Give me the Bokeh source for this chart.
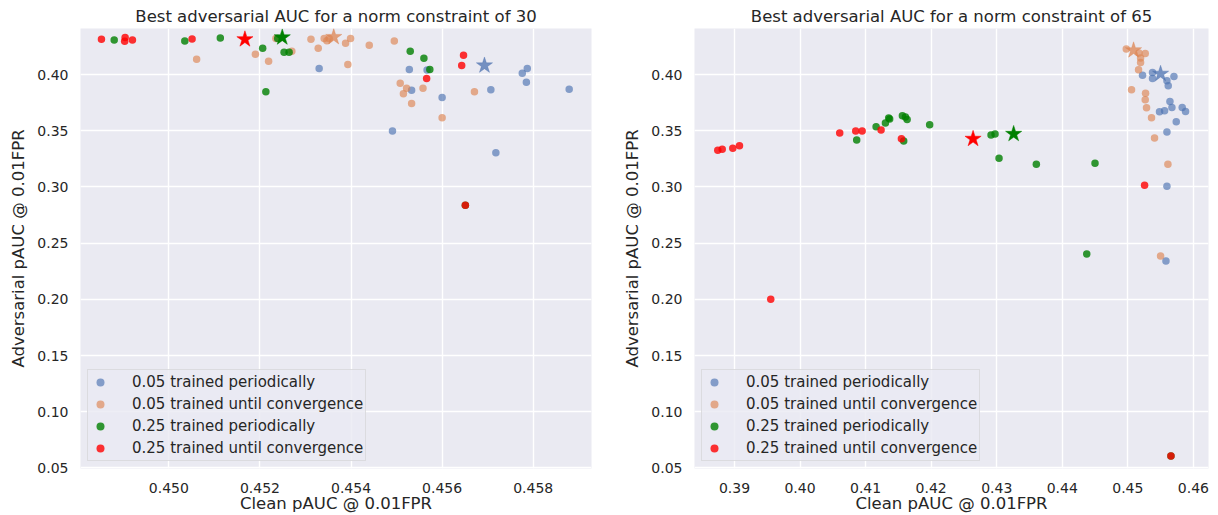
from bokeh.plotting import figure
from bokeh.layouts import row
from bokeh.models import FixedTicker, PrintfTickFormatter, Legend, LegendItem
from bokeh.embed import file_html
from bokeh.resources import INLINE

# ---- norm constraint 30 ----
c30_p05_x = [0.45330, 0.45528, 0.45567, 0.45533, 0.45600, 0.45491, 0.45707,
             0.45776, 0.45787, 0.45785, 0.45879, 0.45718]
c30_p05_y = [0.4055, 0.4046, 0.4040, 0.3860, 0.3795, 0.3498, 0.3866,
             0.4011, 0.4055, 0.3931, 0.3869, 0.3304]
c30_c05_x = [0.45061, 0.45190, 0.45219, 0.45235, 0.45270, 0.45312, 0.45328,
             0.45341, 0.45347, 0.45352, 0.45388, 0.45399, 0.45393, 0.45440,
             0.45495, 0.45508, 0.45522, 0.45515, 0.45558, 0.45533, 0.45671,
             0.45600]
c30_c05_y = [0.4137, 0.4181, 0.4119, 0.4320, 0.4208, 0.4314, 0.4234,
             0.4320, 0.4302, 0.4320, 0.4278, 0.4320, 0.4090, 0.4261,
             0.4299, 0.3922, 0.3878, 0.3830, 0.3878, 0.3742, 0.3848,
             0.3616]
c30_p25_x = [0.44880, 0.45035, 0.45113, 0.45206, 0.45213, 0.45253, 0.45264,
             0.45239, 0.45530, 0.45560, 0.45573, 0.45651]
c30_p25_y = [0.4307, 0.4299, 0.4325, 0.4234, 0.3848, 0.4199, 0.4199,
             0.4320, 0.4208, 0.4146, 0.4046, 0.2838]
c30_c25_x = [0.44852, 0.44904, 0.44903, 0.44920, 0.45051, 0.45647, 0.45643,
             0.45566, 0.45651]
c30_c25_y = [0.4314, 0.4329, 0.4296, 0.4307, 0.4316, 0.4172, 0.4081,
             0.3966, 0.2838]
# best run of each group (stars): p05, c05, p25, c25
c30_best_x = [0.45693, 0.45362, 0.45249, 0.45167]
c30_best_y = [0.4081, 0.4334, 0.4331, 0.4314]

# ---- norm constraint 65 ----
c65_p05_x = [0.45224, 0.45376, 0.45376, 0.45596, 0.45616, 0.45703, 0.45642,
             0.45560, 0.45483, 0.45672, 0.45829, 0.45880, 0.45738, 0.45596,
             0.45596, 0.45581]
c65_p05_y = [0.3993, 0.4019, 0.3966, 0.3945, 0.3901, 0.3984, 0.3760,
             0.3678, 0.3669, 0.3707, 0.3707, 0.3671, 0.3580, 0.3489,
             0.3006, 0.2341]
c65_c05_x = [0.44976, 0.45169, 0.45265, 0.45194, 0.45194, 0.45163, 0.45056,
             0.45270, 0.45265, 0.45285, 0.45361, 0.45407, 0.45611, 0.45499]
c65_c05_y = [0.4228, 0.4193, 0.4187, 0.4148, 0.4108, 0.4042, 0.3866,
             0.3834, 0.3777, 0.3704, 0.3616, 0.3436, 0.3203, 0.2385]
c65_p25_x = [0.40864, 0.41160, 0.41302, 0.41352, 0.41367, 0.41561, 0.41607,
             0.41633, 0.41581, 0.41977, 0.42913, 0.42974, 0.43035, 0.43604,
             0.44499, 0.44373, 0.45657]
c65_p25_y = [0.3419, 0.3536, 0.3569, 0.3613, 0.3604, 0.3633, 0.3622,
             0.3601, 0.3410, 0.3554, 0.3463, 0.3472, 0.3256, 0.3203,
             0.3212, 0.2404, 0.0606]
c65_c25_x = [0.38745, 0.38813, 0.38974, 0.39076, 0.40605, 0.40849, 0.40947,
             0.41236, 0.41546, 0.45255, 0.39553, 0.45657]
c65_c25_y = [0.3327, 0.3336, 0.3345, 0.3366, 0.3481, 0.3498, 0.3498,
             0.3507, 0.3428, 0.3015, 0.2002, 0.0606]
c65_best_x = [0.45499, 0.45087, 0.43258, 0.42639]
c65_best_y = [0.4007, 0.4216, 0.3472, 0.3428]

group_labels = ["0.05 trained periodically", "0.05 trained until convergence",
                "0.25 trained periodically", "0.25 trained until convergence"]
group_colors = ["#4C72B0", "#DD8452", "#008000", "#FF0000"]
group_alpha = [0.65, 0.65, 0.8, 0.8]
star_alpha = [0.75, 0.75, 1.0, 1.0]

y_ticks = [0.05, 0.10, 0.15, 0.20, 0.25, 0.30, 0.35, 0.40]
x_ticks_30 = [0.450, 0.452, 0.454, 0.456, 0.458]
x_ticks_65 = [0.39, 0.40, 0.41, 0.42, 0.43, 0.44, 0.45, 0.46]

TXT = "#262626"
FONT = "DejaVu Sans"


def panel(title, groups, best_x, best_y, x_range, x_ticks, x_fmt,
          width, border_left, border_right):
    p = figure(width=width, height=515, x_range=x_range, y_range=(0.0495, 0.441),
               output_backend="svg", toolbar_location=None,
               min_border_left=border_left, min_border_right=border_right,
               min_border_top=28, min_border_bottom=45)
    p.background_fill_color = "#EAEAF2"
    p.border_fill_color = "white"
    p.outline_line_color = None

    p.title.text = title
    p.title.align = "center"
    p.title.text_font = FONT
    p.title.text_font_size = "16.5px"
    p.title.text_font_style = "normal"
    p.title.text_color = TXT
    p.title.standoff = 6

    for g in (p.xgrid, p.ygrid):
        g.grid_line_color = "white"
        g.grid_line_width = 1.4

    p.yaxis.ticker = FixedTicker(ticks=y_ticks)
    p.yaxis.formatter = PrintfTickFormatter(format="%.2f")
    p.xaxis.ticker = FixedTicker(ticks=x_ticks)
    p.xaxis.formatter = PrintfTickFormatter(format=x_fmt)
    p.xaxis.axis_label = "Clean pAUC @ 0.01FPR"
    p.yaxis.axis_label = "Adversarial pAUC @ 0.01FPR"
    for ax in (p.xaxis, p.yaxis):
        ax.axis_line_color = None
        ax.major_tick_line_color = None
        ax.minor_tick_line_color = None
        ax.major_tick_out = 0
        ax.major_tick_in = 0
        ax.major_label_text_font = FONT
        ax.major_label_text_font_size = "14px"
        ax.major_label_text_color = TXT
        ax.axis_label_text_font = FONT
        ax.axis_label_text_font_size = "16.5px"
        ax.axis_label_text_font_style = "normal"
        ax.axis_label_text_color = TXT
    p.xaxis.axis_label_text_line_height = 0.75
    p.xaxis.major_label_standoff = 14
    p.xaxis.axis_label_standoff = -2
    p.yaxis.major_label_standoff = 12
    p.yaxis.axis_label_standoff = 6

    items = []
    for (xs, ys), lab, col, a in zip(groups, group_labels, group_colors, group_alpha):
        r = p.scatter(xs, ys, size=7.5, marker="circle", fill_color=col,
                      fill_alpha=a, line_color=None)
        items.append(LegendItem(label=lab, renderers=[r]))
    for bx, by, col, a in zip(best_x, best_y, group_colors, star_alpha):
        p.scatter([bx], [by], size=17, marker="star", fill_color=col,
                  fill_alpha=a, line_color=col, line_alpha=a * 0.5)

    leg = Legend(items=items, location="bottom_left", margin=7,
                 padding=2, spacing=2, label_height=20, glyph_height=20,
                 glyph_width=20, label_standoff=22,
                 label_text_font=FONT, label_text_font_size="15px",
                 label_text_color=TXT,
                 background_fill_color="#EAEAF2", background_fill_alpha=0.8,
                 border_line_color="#CCCCCC", border_line_width=1)
    p.add_layout(leg, "center")
    return p


left = panel("Best adversarial AUC for a norm constraint of 30",
             [(c30_p05_x, c30_p05_y), (c30_c05_x, c30_c05_y),
              (c30_p25_x, c30_p25_y), (c30_c25_x, c30_c25_y)],
             c30_best_x, c30_best_y, (0.44806, 0.45928), x_ticks_30, "%.3f",
             610, 80, 19)
right = panel("Best adversarial AUC for a norm constraint of 65",
              [(c65_p05_x, c65_p05_y), (c65_c05_x, c65_c05_y),
               (c65_p25_x, c65_p25_y), (c65_c25_x, c65_c25_y)],
              c65_best_x, c65_best_y, (0.3839, 0.4623), x_ticks_65, "%.2f",
              608, 84, 10)

layout = row(left, right)
open("out.html", "w").write(file_html(layout, INLINE))
